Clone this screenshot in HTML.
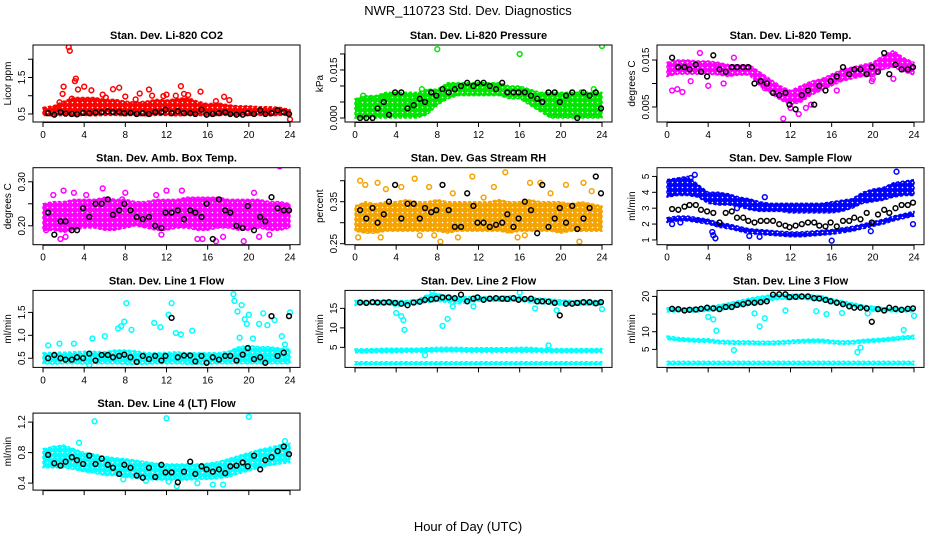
<!DOCTYPE html>
<html><head><meta charset="utf-8"><style>
body{margin:0;background:#fff}
svg{display:block;font-family:"Liberation Sans",Arial,sans-serif}
</style></head><body>
<svg id="chart" width="936" height="540" viewBox="0 0 936 540" xmlns="http://www.w3.org/2000/svg">
<defs id="defs"></defs>
<text x="468" y="15" text-anchor="middle" font-size="13">NWR_110723  Std. Dev. Diagnostics</text>
<text x="468" y="531" text-anchor="middle" font-size="13">Hour of Day (UTC)</text>
</svg>
<script>
const HOURS=[0,1,2,3,4,5,6,7,8,9,10,11,12,13,14,15,16,17,18,19,20,21,22,23,24];
const BX=[0.5,1.1,1.7,2.2,2.8,3.3,3.9,4.5,5.1,5.7,6.3,6.8,7.4,7.9,8.5,9.1,9.7,10.3,10.9,11.5,11.9,12.5,13.1,13.7,14.3,14.8,15.4,15.9,16.5,17.1,17.7,18.2,18.8,19.4,19.9,20.5,21.1,21.6,22.2,22.8,23.4,23.9];

const co2Lo=[0.46,0.45,0.46,0.45,0.46,0.45,0.46,0.46,0.45,0.46,0.45,0.46,0.46,0.45,0.46,0.46,0.45,0.46,0.46,0.45,0.46,0.46,0.45,0.46,0.46];
const co2Hi=[0.68,0.72,0.85,0.95,0.95,0.95,0.9,0.9,0.85,0.82,0.85,0.9,0.88,0.92,0.95,0.85,0.78,0.8,0.75,0.72,0.72,0.7,0.7,0.68,0.62];
const co2OutX=[2.5,2.6,3.2,3.1,2.0,4.0,4.7,3.4,7.4,6.8,10.3,13.4,15.3,9.4,12.0,17.6,1.6,8.0,24,5.8,11.7,13.7,14.1,1.9,2.8,6.1,9.0,10.6,12.9,16.8,18.1,1.2];
const co2OutY=[2.33,2.23,1.47,1.4,1.25,1.25,1.15,1.17,1.22,1.18,1.17,1.26,1.11,1.06,1.03,0.97,0.82,0.98,0.35,1.03,0.99,1.05,1.02,1.05,0.92,0.95,0.9,1.0,1.0,0.85,0.88,0.65];
const co2Black=[0.52,0.48,0.55,0.51,0.50,0.49,0.53,0.52,0.54,0.55,0.57,0.55,0.56,0.52,0.53,0.50,0.52,0.50,0.55,0.55,0.62,0.52,0.58,0.52,0.52,0.50,0.62,0.48,0.50,0.52,0.55,0.50,0.48,0.48,0.52,0.50,0.60,0.50,0.52,0.60,0.55,0.50];

const presLo=[0,0,0,0,0,0,0,0.001,0.004,0.006,0.007,0.007,0.007,0.007,0.007,0.006,0.006,0.004,0.002,0,0,0,0,0,0];
const presHi=[0.006,0.007,0.007,0.008,0.008,0.008,0.008,0.009,0.009,0.011,0.011,0.011,0.011,0.011,0.011,0.010,0.010,0.009,0.008,0.008,0.008,0.008,0.008,0.008,0.008];
const presOutX=[8,16,24,0.3,0.8,1.5,2.5,3.0,6.5,18.8,22,23.2];
const presOutY=[0.0215,0.0200,0.0225,0.004,0.007,0.006,0.006,0.007,0.009,0.008,0.008,0.009];
const presBlack=[0,0,0,0.003,0.005,0.001,0.008,0.008,0.003,0.004,0.006,0.005,0.008,0.007,0.009,0.008,0.009,0.010,0.011,0.010,0.011,0.011,0.010,0.009,0.011,0.008,0.008,0.008,0.008,0.007,0.006,0.005,0.008,0.008,0.005,0.007,0.008,0,0.008,0.007,0.008,0.003];

const tempLo=[0.0115,0.012,0.012,0.012,0.012,0.0118,0.0115,0.0118,0.0118,0.0095,0.008,0.0065,0.0055,0.006,0.0075,0.0085,0.0095,0.0105,0.011,0.0115,0.0115,0.013,0.0135,0.0125,0.0118];
const tempHi=[0.0145,0.015,0.015,0.0148,0.0148,0.0145,0.014,0.014,0.014,0.0125,0.011,0.0095,0.0085,0.0095,0.0105,0.011,0.012,0.013,0.0135,0.014,0.0145,0.016,0.017,0.0155,0.0145];
const tempOutX=[11.3,12.8,3.2,1.0,1.5,0.5,5.5,2.3,14.0,12.0,13.5,9.5,16.5,20.0,22.0,19.9,4.0,6.5];
const tempOutY=[0.0025,0.0035,0.0165,0.0088,0.0082,0.0085,0.010,0.0105,0.0055,0.0048,0.0048,0.009,0.0085,0.011,0.011,0.0105,0.0095,0.0155];
const tempBlack=[0.0155,0.0135,0.0135,0.013,0.014,0.0125,0.0115,0.016,0.013,0.0125,0.0135,0.0135,0.0135,0.0135,0.010,0.0105,0.010,0.008,0.0075,0.008,0.0055,0.0045,0.0075,0.0085,0.0055,0.0095,0.0085,0.0105,0.0115,0.0135,0.012,0.013,0.013,0.012,0.0135,0.0125,0.0165,0.012,0.014,0.013,0.013,0.0135];

const ambLo=[0.19,0.19,0.185,0.19,0.195,0.195,0.19,0.19,0.195,0.2,0.195,0.19,0.19,0.195,0.195,0.19,0.19,0.195,0.195,0.19,0.19,0.195,0.19,0.19,0.195];
const ambHi=[0.25,0.255,0.255,0.26,0.26,0.26,0.265,0.26,0.26,0.255,0.255,0.26,0.26,0.26,0.265,0.265,0.265,0.265,0.26,0.26,0.26,0.26,0.255,0.255,0.25];
const ambOutX=[2.0,5.8,13.5,23.0,3.0,4.2,1.7,0.3,8.0,11.5,12.0,15.0,15.5,16.8,17.5,19.5,21.0,22.0,20.5,2.2,7.7,11.0,1.0];
const ambOutY=[0.28,0.285,0.28,0.335,0.275,0.27,0.17,0.19,0.275,0.18,0.28,0.17,0.17,0.165,0.175,0.165,0.175,0.18,0.275,0.175,0.26,0.27,0.27];
const ambBlack=[0.23,0.18,0.21,0.21,0.19,0.19,0.24,0.22,0.25,0.25,0.26,0.225,0.235,0.25,0.235,0.22,0.215,0.22,0.20,0.195,0.23,0.23,0.235,0.215,0.235,0.23,0.22,0.25,0.17,0.26,0.235,0.23,0.20,0.195,0.245,0.19,0.22,0.21,0.265,0.24,0.235,0.235];

const rhLo=[0.28,0.275,0.275,0.28,0.28,0.28,0.28,0.28,0.28,0.275,0.28,0.28,0.28,0.28,0.28,0.275,0.28,0.28,0.28,0.28,0.275,0.28,0.28,0.28,0.28];
const rhHi=[0.34,0.35,0.345,0.35,0.35,0.355,0.35,0.35,0.355,0.35,0.35,0.35,0.35,0.35,0.355,0.35,0.35,0.355,0.35,0.35,0.35,0.345,0.35,0.345,0.34];
const rhOutX=[0.5,1.0,2.2,3.0,4.5,5.8,7.2,7.7,8.3,10.0,11.4,13.5,14.6,15.8,17.0,18.0,20.5,22.2,23.0,21.8,0.3,2.5,6.3,9.5,12.5,16.5,19.0];
const rhOutY=[0.40,0.39,0.395,0.38,0.385,0.405,0.385,0.27,0.255,0.265,0.41,0.385,0.42,0.265,0.395,0.395,0.39,0.395,0.375,0.255,0.265,0.265,0.27,0.37,0.36,0.27,0.37];
const rhBlack=[0.33,0.31,0.335,0.30,0.32,0.35,0.39,0.31,0.345,0.345,0.31,0.335,0.325,0.33,0.39,0.33,0.29,0.29,0.37,0.34,0.30,0.30,0.29,0.295,0.30,0.32,0.29,0.31,0.35,0.33,0.275,0.39,0.29,0.31,0.335,0.30,0.34,0.285,0.31,0.335,0.41,0.37];

const flowUpLo=[3.7,3.8,3.8,3.7,3.3,3.2,3.2,3.1,2.9,2.8,2.8,2.8,2.7,2.7,2.7,2.7,2.7,2.8,3.0,3.3,3.4,3.5,3.7,3.8,3.8];
const flowUpHi=[4.8,4.9,5.0,4.5,4.0,4.0,3.9,3.7,3.6,3.4,3.3,3.3,3.3,3.3,3.3,3.3,3.4,3.5,3.6,4.0,4.2,4.3,4.6,4.7,4.8];
const flowLowLo=[2.1,2.2,2.2,2.1,2.0,1.8,1.7,1.55,1.4,1.35,1.3,1.25,1.2,1.2,1.25,1.3,1.35,1.45,1.55,1.7,1.85,2.0,2.2,2.35,2.5];
const flowLowHi=[2.4,2.5,2.5,2.4,2.3,2.1,2.0,1.85,1.7,1.65,1.6,1.55,1.5,1.5,1.55,1.6,1.65,1.75,1.85,2.0,2.15,2.3,2.5,2.65,2.8];
const flowOutX=[2.3,2.7,4.5,4.7,16.0,22.3,8.0,9.0,9.5,23.9,0.5,1.3,19.8,4.4,6.8];
const flowOutY=[4.9,5.1,1.3,1.1,0.95,5.3,1.25,1.2,3.7,2.0,2.0,2.1,1.55,1.5,3.0];
const flowBlack=[2.95,2.9,3.1,3.2,3.2,2.9,2.8,2.7,2.1,2.7,2.8,2.4,2.4,2.2,2.1,2.2,2.2,2.2,2.0,1.9,1.8,1.9,2.0,2.1,2.1,1.9,1.85,2.1,1.85,2.2,2.2,2.4,2.3,2.7,2.1,2.6,2.9,2.7,3.0,3.2,3.2,3.35];

const l1Lo=[0.38,0.37,0.38,0.38,0.37,0.38,0.38,0.38,0.37,0.36,0.37,0.38,0.38,0.38,0.37,0.37,0.37,0.38,0.38,0.38,0.38,0.38,0.38,0.38,0.38];
const l1Hi=[0.62,0.63,0.63,0.64,0.65,0.65,0.64,0.68,0.68,0.66,0.62,0.62,0.63,0.64,0.62,0.62,0.62,0.62,0.65,0.75,0.78,0.75,0.75,0.72,0.7];
const l1OutX=[8.1,12.5,18.5,18.6,18.9,19.3,19.6,19.8,20.0,20.4,21.0,21.4,21.8,22.5,23.2,24.0,7.3,7.6,7.9,8.6,10.8,11.4,12.2,12.9,13.4,14.5,6.0,4.8,3.0,1.6,0.5,23.5,19.1,4.5];
const l1OutY=[1.70,1.70,1.90,1.75,1.52,1.66,1.35,1.25,1.45,0.93,1.25,1.48,1.22,1.33,0.98,1.50,1.15,1.20,1.30,1.12,1.27,1.18,1.45,1.05,1.02,1.10,0.98,0.93,0.82,0.82,0.78,0.80,0.95,0.35];
const l1Black=[0.5,0.57,0.5,0.47,0.47,0.52,0.50,0.60,0.45,0.57,0.57,0.52,0.55,0.58,0.52,0.42,0.55,0.48,0.55,0.45,0.55,1.38,0.52,0.56,0.56,0.43,0.55,0.40,0.52,0.47,0.55,0.55,0.45,0.58,0.72,0.48,0.52,0.40,1.42,0.55,0.62,1.42];

const l2TopLo=[15.8,16,16,16,15.5,15.8,16,16.5,16.8,16.5,16.2,16.5,16.8,16.8,16.8,16.8,16.8,16.5,16.2,16.0,15.8,15.8,15.8,15.8,15.8];
const l2TopHi=[17,17,17,17,17,17,17.2,18.5,18.8,18.2,18.0,18.0,18.0,18.0,18.0,18.2,18.0,17.8,17.6,17.4,17.2,17.0,17.0,17.0,17.0];
const l2MidLo=[3.6,3.6,3.7,3.7,3.7,3.8,3.8,3.8,3.9,3.9,3.9,3.8,3.8,3.8,3.8,3.8,3.8,3.8,3.8,3.7,3.7,3.7,3.7,3.7,3.7];
const l2MidHi=[4.6,4.6,4.7,4.8,4.8,4.8,4.8,4.9,5.0,5.0,5.0,4.9,4.9,4.9,4.9,4.9,5.0,5.0,4.8,4.7,4.7,4.7,4.7,4.7,4.7];
const l2BotLo=[0.5,0.5,0.5,0.5,0.5,0.5,0.5,0.5,0.5,0.5,0.5,0.5,0.5,0.5,0.5,0.5,0.5,0.5,0.5,0.5,0.5,0.5,0.5,0.5,0.5];
const l2BotHi=[1.3,1.3,1.3,1.3,1.3,1.3,1.3,1.3,1.3,1.3,1.3,1.3,1.3,1.3,1.3,1.3,1.3,1.3,1.3,1.3,1.3,1.3,1.3,1.3,1.3];
const l2OutX=[4.0,4.5,4.7,4.8,8.5,9.0,6.8,7.5,11.5,16,17.5,18.8,19.6,24.0,9.5];
const l2OutY=[13.8,13.0,12.0,9.5,10.5,12.3,3.0,19.5,15.5,19.0,15.0,5.5,14.5,14.8,15.5];
const l2Black=[16.5,16.4,16.6,16.5,16.5,16.6,16.4,16.2,15.8,16.5,16.7,17.2,17.3,17.5,17.8,17.8,17.6,18.5,16.8,17.5,17.8,17.2,17.5,17.6,17.5,17.4,17.6,17.2,17.4,17.5,16.8,16.8,16.7,16.4,13.2,16.2,16.2,16.4,16.6,16.6,16.3,16.6];

const l3TopLo=[15.6,15.6,15.6,15.6,15.8,16.0,16.5,17.0,17.5,18.0,18.8,19.2,19.2,19.2,19.0,18.8,18.0,17.5,17.0,16.5,16.0,15.8,15.6,15.6,15.6];
const l3TopHi=[16.8,16.8,16.8,16.8,17.2,17.6,18.2,18.8,19.5,20.0,20.4,20.6,20.6,20.6,20.4,20.2,19.4,18.8,18.2,17.6,17.2,16.8,16.8,16.8,16.8];
const l3MidLo=[7.8,7.4,7.2,7.0,7.0,6.6,6.5,6.4,6.4,6.3,6.3,6.4,6.6,6.8,6.9,6.9,6.6,6.4,6.5,6.8,7.0,7.2,7.5,7.8,8.0];
const l3MidHi=[8.8,8.4,8.2,8.0,8.0,7.6,7.5,7.4,7.4,7.3,7.3,7.4,7.6,7.8,7.9,7.9,7.6,7.4,7.5,7.8,8.0,8.2,8.5,8.8,9.0];
const l3BotLo=[0.6,0.6,0.6,0.6,0.6,0.6,0.6,0.6,0.6,0.6,0.6,0.6,0.6,0.6,0.6,0.6,0.6,0.6,0.6,0.6,0.6,0.6,0.6,0.6,0.6];
const l3BotHi=[1.6,1.6,1.6,1.6,1.6,1.6,1.6,1.6,1.6,1.6,1.6,1.6,1.6,1.6,1.6,1.6,1.6,1.6,1.6,1.6,1.6,1.6,1.6,1.6,1.6];
const l3OutX=[4.0,4.5,4.8,6.5,8.5,9.0,9.5,11.5,14.5,15.5,17.0,19.5,18.5,18.8,20.0,23.0,24.0];
const l3OutY=[14.2,13.5,10.3,4.8,15.2,11.5,13.8,16.0,15.8,15.0,15.3,15.2,4.2,5.5,16.5,10.5,14.5];
const l3Black=[16.5,16.4,16.0,16.2,16.3,16.5,16.8,16.6,16.4,17.0,17.0,17.6,17.8,18.2,18.2,18.4,18.6,20.5,20.6,20.6,19.8,19.9,20.0,20.0,19.5,19.4,19.0,18.6,18.2,17.8,17.2,16.8,16.8,16.6,12.8,16.4,16.0,16.8,16.5,16.2,16.5,16.6];

const l4Lo=[0.6,0.6,0.6,0.58,0.55,0.53,0.5,0.5,0.48,0.46,0.45,0.44,0.44,0.44,0.44,0.45,0.45,0.46,0.48,0.52,0.56,0.6,0.63,0.65,0.67];
const l4Hi=[0.85,0.88,0.9,0.85,0.8,0.78,0.75,0.73,0.72,0.70,0.68,0.66,0.65,0.65,0.65,0.65,0.66,0.68,0.72,0.76,0.8,0.84,0.87,0.9,0.92];
const l4OutX=[5.0,12.0,20.0,3.5,15.0,17.5,13.0,16.5,1.0,7.8,10.0,12.2,23.5];
const l4OutY=[1.21,1.25,1.27,0.93,0.40,0.38,0.36,0.38,0.85,0.45,0.43,0.42,0.95];
const l4Black=[0.77,0.66,0.63,0.68,0.74,0.70,0.65,0.76,0.65,0.72,0.64,0.60,0.52,0.64,0.60,0.50,0.47,0.60,0.48,0.64,0.54,0.54,0.41,0.55,0.68,0.52,0.62,0.58,0.55,0.58,0.53,0.62,0.63,0.67,0.62,0.76,0.58,0.70,0.74,0.82,0.88,0.78];

const XTICKS=[0,4,8,12,16,20,24];

const panels=[
 {id:'co2',title:'Stan. Dev. Li-820 CO2',ylab:'Licor ppm',c:0,r:0,ymin:0.28,ymax:2.39,ticks:[0.5,1.0,1.5,2.0],labels:['0.5','','1.5',''],col:'#ff0000',bands:[[co2Lo,co2Hi]],ox:co2OutX,oy:co2OutY,bk:co2Black,xl:true},
 {id:'pressure',title:'Stan. Dev. Li-820 Pressure',ylab:'kPa',c:1,r:0,ymin:-0.00125,ymax:0.0228,ticks:[0,0.005,0.010,0.015,0.020],labels:['0.000','','','0.015',''],col:'#00e600',bands:[[presLo,presHi]],ox:presOutX,oy:presOutY,bk:presBlack,xl:true},
 {id:'temp',title:'Stan. Dev. Li-820 Temp.',ylab:'degrees C',c:2,r:0,ymin:0.0018,ymax:0.0182,ticks:[0.005,0.010,0.015],labels:['0.005','','0.015'],col:'#ff00ff',bands:[[tempLo,tempHi]],ox:tempOutX,oy:tempOutY,bk:tempBlack,xl:true},
 {id:'amb-box-temp',title:'Stan. Dev. Amb. Box Temp.',ylab:'degrees C',c:0,r:1,ymin:0.157,ymax:0.332,ticks:[0.20,0.25,0.30],labels:['0.20','','0.30'],col:'#ff00ff',bands:[[ambLo,ambHi]],ox:ambOutX,oy:ambOutY,bk:ambBlack,xl:true},
 {id:'gas-rh',title:'Stan. Dev. Gas Stream RH',ylab:'percent',c:1,r:1,ymin:0.2476,ymax:0.431,ticks:[0.25,0.30,0.35,0.40],labels:['0.25','','0.35',''],col:'#f5a300',bands:[[rhLo,rhHi]],ox:rhOutX,oy:rhOutY,bk:rhBlack,xl:true},
 {id:'sample-flow',title:'Stan. Dev. Sample Flow',ylab:'ml/min',c:2,r:1,ymin:0.70,ymax:5.55,ticks:[1,2,3,4,5],labels:['1','2','3','4','5'],col:'#0000ff',bands:[[flowUpLo,flowUpHi],[flowLowLo,flowLowHi]],ox:flowOutX,oy:flowOutY,bk:flowBlack,xl:true},
 {id:'line1-flow',title:'Stan. Dev. Line 1 Flow',ylab:'ml/min',c:0,r:2,ymin:0.30,ymax:1.98,ticks:[0.5,1.0,1.5],labels:['0.5','1.0','1.5'],col:'#00ffff',bands:[[l1Lo,l1Hi]],ox:l1OutX,oy:l1OutY,bk:l1Black,xl:true},
 {id:'line2-flow',title:'Stan. Dev. Line 2 Flow',ylab:'ml/min',c:1,r:2,ymin:-0.13,ymax:19.6,ticks:[5,10,15],labels:['5','10','15'],col:'#00ffff',bands:[[l2TopLo,l2TopHi],[l2MidLo,l2MidHi],[l2BotLo,l2BotHi]],ox:l2OutX,oy:l2OutY,bk:l2Black,xl:false},
 {id:'line3-flow',title:'Stan. Dev. Line 3 Flow',ylab:'ml/min',c:2,r:2,ymin:-0.1,ymax:21.7,ticks:[5,10,15,20],labels:['5','10','','20'],col:'#00ffff',bands:[[l3TopLo,l3TopHi],[l3MidLo,l3MidHi],[l3BotLo,l3BotHi]],ox:l3OutX,oy:l3OutY,bk:l3Black,xl:false},
 {id:'line4-flow',title:'Stan. Dev. Line 4 (LT) Flow',ylab:'ml/min',c:0,r:3,ymin:0.308,ymax:1.318,ticks:[0.4,0.8,1.2],labels:['0.4','0.8','1.2'],col:'#00ffff',bands:[[l4Lo,l4Hi]],ox:l4OutX,oy:l4OutY,bk:l4Black,xl:false}
];

const NS='http://www.w3.org/2000/svg';
const svg=document.getElementById('chart');
const defs=document.getElementById('defs');
function mk(tag,attrs,parent){const e=document.createElementNS(NS,tag);for(const k in attrs)e.setAttribute(k,attrs[k]);(parent||svg).appendChild(e);return e;}
const patterns={};
function patternFor(col){
  if(patterns[col])return patterns[col];
  const id='pat'+Object.keys(patterns).length;
  const pt=mk('pattern',{id:id,width:5,height:5,patternUnits:'userSpaceOnUse'},defs);
  mk('rect',{x:0,y:0,width:5,height:5,fill:col},pt);
  mk('circle',{cx:2.5,cy:2.5,r:0.8,fill:'#fff'},pt);
  patterns[col]='url(#'+id+')';
  return patterns[col];
}

panels.forEach(p=>{
  const x0=43+312*p.c, x24=x0+247;
  const left=x0-10, right=x0+257;
  const top=45+122.7*p.r, h=77, bottom=top+h;
  const X=v=>x0+(v/24)*(x24-x0);
  const Y=v=>bottom-(v-p.ymin)/(p.ymax-p.ymin)*h;
  const g=mk('g',{});
  
  
  const cid='clip-'+p.id;
  const cp=mk('clipPath',{id:cid},g); mk('rect',{x:left,y:top,width:right-left,height:h},cp);
  const plot=mk('g',{'clip-path':'url(#'+cid+')'},g);
  const fill=patternFor(p.col);
  p.bands.forEach((b,bi)=>{
    let pts=[];
    for(let i=0;i<HOURS.length;i++)pts.push(X(HOURS[i]).toFixed(1)+','+Y(b[1][i]).toFixed(1));
    for(let i=HOURS.length-1;i>=0;i--)pts.push(X(HOURS[i]).toFixed(1)+','+Y(b[0][i]).toFixed(1));
    const poly=mk('polygon',{points:pts.join(' '),fill:fill,stroke:p.col,'stroke-width':1.5,'stroke-dasharray':'3 2','stroke-linejoin':'round'},plot);
    
    
  });
  for(let i=0;i<Math.min(p.ox.length,p.oy.length);i++){
    const c=mk('circle',{cx:X(p.ox[i]).toFixed(1),cy:Y(p.oy[i]).toFixed(1),r:2.4,fill:'none',stroke:p.col,'stroke-width':1.5},plot);
    
    
  }
  for(let i=0;i<Math.min(BX.length,p.bk.length);i++){
    const c=mk('circle',{cx:X(BX[i]).toFixed(1),cy:Y(p.bk[i]).toFixed(1),r:2.4,fill:'none',stroke:'#000','stroke-width':1.5},plot);
    
    
  }
  const box=mk('rect',{x:left,y:top,width:right-left,height:h,fill:'none',stroke:'#000','stroke-width':1},g);
  
  
  const t=mk('text',{x:(left+right)/2,y:top-6,'text-anchor':'middle','font-size':11,'font-weight':'bold'},g);
  t.textContent=p.title;
  
  
  const yt=mk('text',{x:left-22,y:top+h/2,'text-anchor':'middle','font-size':10,transform:'rotate(-90 '+(left-22)+' '+(top+h/2)+')'},g);
  yt.textContent=p.ylab;
  
  
  mk('line',{x1:X(0),x2:X(24),y1:bottom+0.5,y2:bottom+0.5,stroke:'#000'},g);
  XTICKS.forEach(v=>{
    mk('line',{x1:X(v),x2:X(v),y1:bottom,y2:bottom+5,stroke:'#000'},g);
    if(p.xl){const tl=mk('text',{x:X(v),y:bottom+16,'text-anchor':'middle','font-size':10},g);tl.textContent=v;
      
      }
  });
  const yv=p.ticks.map(Y);
  mk('line',{x1:left-0.5,x2:left-0.5,y1:yv[0],y2:yv[yv.length-1],stroke:'#000'},g);
  p.ticks.forEach((v,i)=>{
    const yy=Y(v);
    mk('line',{x1:left-5,x2:left,y1:yy,y2:yy,stroke:'#000'},g);
    if(p.labels[i]){const tl=mk('text',{x:left-8,y:yy,'text-anchor':'middle','font-size':10,transform:'rotate(-90 '+(left-8)+' '+yy+')'},g);tl.textContent=p.labels[i];
      
      }
  });
});
</script>
</body></html>
